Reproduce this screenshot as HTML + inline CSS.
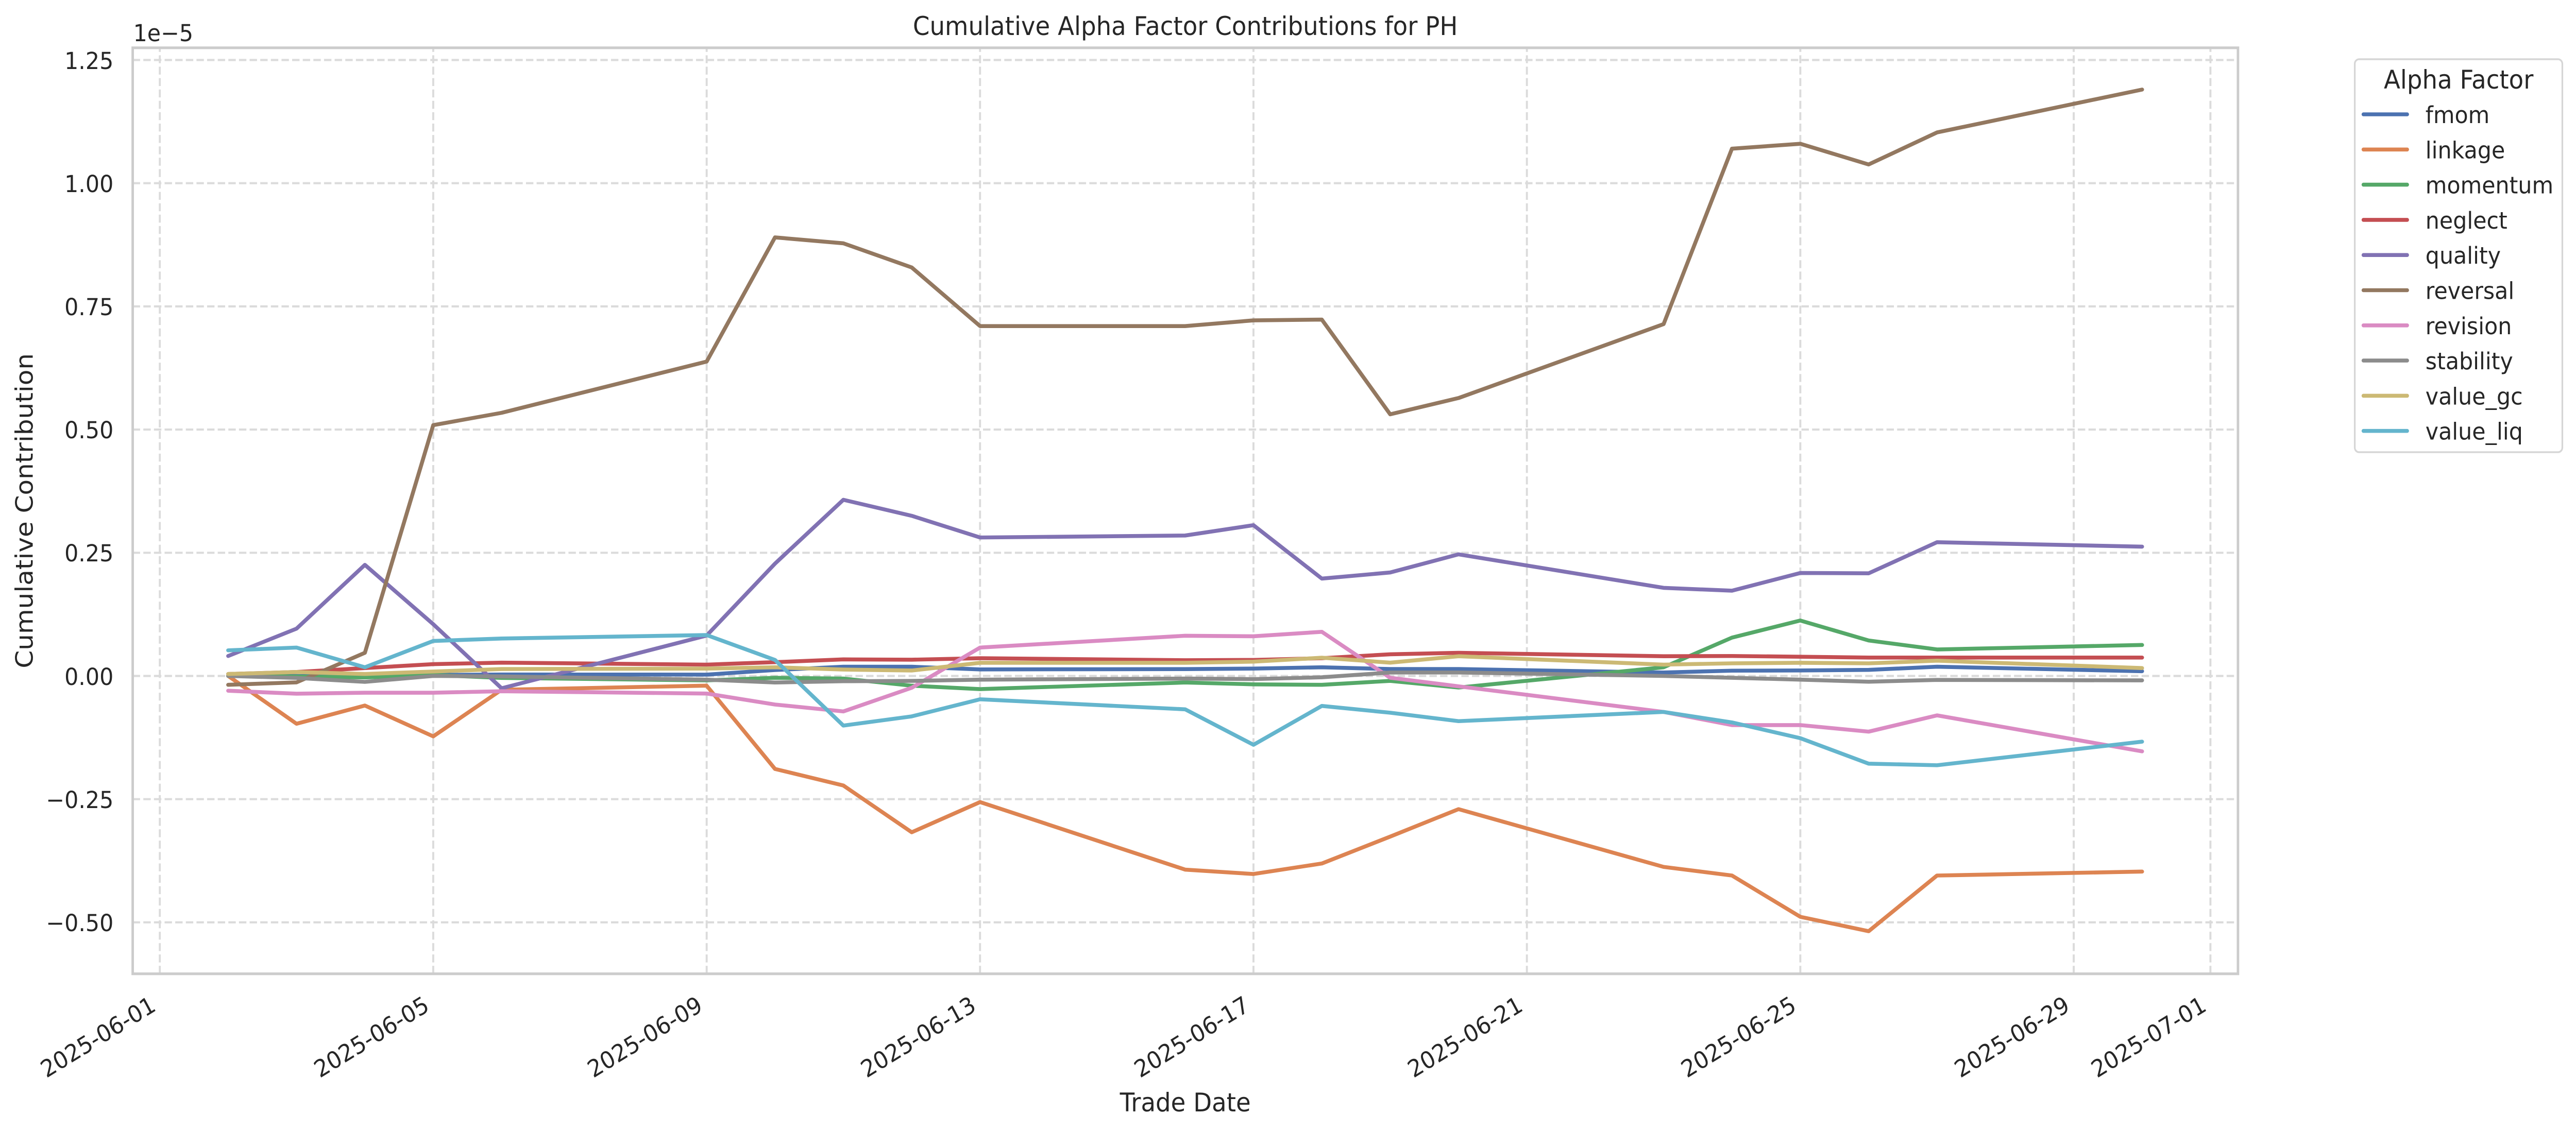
<!DOCTYPE html>
<html>
<head>
<meta charset="utf-8">
<style>
html,body{margin:0;padding:0;background:#ffffff;width:100%;height:100%;overflow:hidden;}
svg{display:block;width:100vw;height:100vh;}
text{font-family:"DejaVu Sans","Liberation Sans",sans-serif;fill:#262626;}
.ln{fill:none;stroke-width:7.6;stroke-linecap:round;stroke-linejoin:round;vector-effect:non-scaling-stroke;}
.grid{stroke:#dbdbdb;stroke-width:4.17;stroke-dasharray:15.4 6.7;fill:none;}
</style>
</head>
<body>
<svg viewBox="0 0 5356 2198" preserveAspectRatio="none" xmlns="http://www.w3.org/2000/svg">
<rect x="0" y="0" width="5356" height="2198" fill="#ffffff"/>

<g class="grid">
<path d="M275.9,1790.9H4653.2"/>
<path d="M275.9,1551.7H4653.2"/>
<path d="M275.9,1312.5H4653.2"/>
<path d="M275.9,1073.3H4653.2"/>
<path d="M275.9,834.1H4653.2"/>
<path d="M275.9,594.9H4653.2"/>
<path d="M275.9,355.7H4653.2"/>
<path d="M275.9,116.5H4653.2"/>
<path d="M332.3,1890.8V92.8"/>
<path d="M900.8,1890.8V92.8"/>
<path d="M1469.3,1890.8V92.8"/>
<path d="M2037.7,1890.8V92.8"/>
<path d="M2606.2,1890.8V92.8"/>
<path d="M3174.7,1890.8V92.8"/>
<path d="M3743.2,1890.8V92.8"/>
<path d="M4311.7,1890.8V92.8"/>
<path d="M4595.9,1890.8V92.8"/>
</g>

<g transform="matrix(142.12 0 0 -956.8 332.3 1312.5)">
<path class="ln" stroke="#4c72b0" d="M1,0 L2,0 L3,-0.002 L4,0.002 L5,0.003 L8,0.0027 L9,0.012 L10,0.0187 L11,0.0187 L12,0.0133 L15,0.0139 L16,0.015 L17,0.0176 L18,0.014 L19,0.014 L22,0.007 L23,0.0107 L24,0.0112 L25,0.0123 L26,0.0187 L29,0.0096"/>
<path class="ln" stroke="#dd8452" d="M1,0 L2,-0.097 L3,-0.06 L4,-0.1226 L5,-0.028 L8,-0.0197 L9,-0.1887 L10,-0.2223 L11,-0.3172 L12,-0.2559 L15,-0.393 L16,-0.4019 L17,-0.3806 L18,-0.326 L19,-0.2703 L22,-0.3875 L23,-0.405 L24,-0.4888 L25,-0.518 L26,-0.405 L29,-0.397"/>
<path class="ln" stroke="#55a868" d="M1,0 L2,-0.001 L3,-0.003 L4,0.002 L5,-0.004 L8,-0.009 L9,-0.0037 L10,-0.0053 L11,-0.0197 L12,-0.0267 L15,-0.0133 L16,-0.017 L17,-0.018 L18,-0.010 L19,-0.0235 L22,0.0176 L23,0.0778 L24,0.1125 L25,0.072 L26,0.0538 L29,0.0629"/>
<path class="ln" stroke="#c44e52" d="M1,0.004 L2,0.008 L3,0.016 L4,0.024 L5,0.027 L8,0.023 L9,0.028 L10,0.0336 L11,0.033 L12,0.036 L15,0.032 L16,0.0325 L17,0.036 L18,0.044 L19,0.047 L22,0.040 L23,0.0405 L24,0.039 L25,0.0373 L26,0.0373 L29,0.0373"/>
<path class="ln" stroke="#8172b3" d="M1,0.0405 L2,0.096 L3,0.2255 L4,0.105 L5,-0.025 L8,0.082 L9,0.228 L10,0.3575 L11,0.325 L12,0.281 L15,0.285 L16,0.306 L17,0.1976 L18,0.21 L19,0.2468 L22,0.1788 L23,0.173 L24,0.209 L25,0.2083 L26,0.2714 L29,0.2624"/>
<path class="ln" stroke="#937860" d="M1,-0.018 L2,-0.013 L3,0.047 L4,0.509 L5,0.534 L8,0.638 L9,0.890 L10,0.878 L11,0.829 L12,0.710 L15,0.710 L16,0.7216 L17,0.7232 L18,0.531 L19,0.564 L22,0.714 L23,1.070 L24,1.080 L25,1.038 L26,1.103 L29,1.190"/>
<path class="ln" stroke="#da8bc3" d="M1,-0.030 L2,-0.036 L3,-0.034 L4,-0.034 L5,-0.031 L8,-0.0357 L9,-0.058 L10,-0.072 L11,-0.024 L12,0.0576 L15,0.0816 L16,0.0805 L17,0.0896 L18,-0.0037 L19,-0.021 L22,-0.073 L23,-0.0997 L24,-0.0997 L25,-0.113 L26,-0.08 L29,-0.153"/>
<path class="ln" stroke="#8c8c8c" d="M1,0 L2,-0.004 L3,-0.012 L4,0 L5,-0.001 L8,-0.0075 L9,-0.0133 L10,-0.0107 L11,-0.010 L12,-0.0075 L15,-0.0053 L16,-0.0064 L17,-0.0027 L18,0.007 L19,0.007 L22,0 L23,-0.0037 L24,-0.0075 L25,-0.0117 L26,-0.008 L29,-0.009"/>
<path class="ln" stroke="#ccb974" d="M1,0.004 L2,0.008 L3,0.004 L4,0.009 L5,0.014 L8,0.015 L9,0.0176 L10,0.013 L11,0.011 L12,0.0267 L15,0.0267 L16,0.029 L17,0.037 L18,0.027 L19,0.040 L22,0.023 L23,0.0256 L24,0.0267 L25,0.0256 L26,0.031 L29,0.016"/>
<path class="ln" stroke="#64b5cd" d="M1,0.052 L2,0.0576 L3,0.0176 L4,0.071 L5,0.076 L8,0.083 L9,0.0325 L10,-0.1007 L11,-0.082 L12,-0.0474 L15,-0.0677 L16,-0.1397 L17,-0.0608 L18,-0.0746 L19,-0.0917 L22,-0.073 L23,-0.0943 L24,-0.1263 L25,-0.178 L26,-0.1812 L29,-0.1333"/>
</g>

<rect x="275.9" y="92.8" width="4377.3" height="1798" fill="none" stroke="#cccccc" stroke-width="5.2"/>

<g font-size="45.8" text-anchor="end">
<text x="236" y="1808">−0.50</text>
<text x="236" y="1569">−0.25</text>
<text x="236" y="1330">0.00</text>
<text x="236" y="1090">0.25</text>
<text x="236" y="851">0.50</text>
<text x="236" y="612">0.75</text>
<text x="236" y="373">1.00</text>
<text x="236" y="134">1.25</text>
</g>
<text x="277" y="80" font-size="45.8">1e−5</text>

<g font-size="45.8" text-anchor="end">
<text transform="translate(326.9,1960.7) rotate(-30)">2025-06-01</text>
<text transform="translate(895.4,1960.7) rotate(-30)">2025-06-05</text>
<text transform="translate(1463.9,1960.7) rotate(-30)">2025-06-09</text>
<text transform="translate(2032.3,1960.7) rotate(-30)">2025-06-13</text>
<text transform="translate(2600.8,1960.7) rotate(-30)">2025-06-17</text>
<text transform="translate(3169.3,1960.7) rotate(-30)">2025-06-21</text>
<text transform="translate(3737.8,1960.7) rotate(-30)">2025-06-25</text>
<text transform="translate(4306.3,1960.7) rotate(-30)">2025-06-29</text>
<text transform="translate(4590.5,1960.7) rotate(-30)">2025-07-01</text>
</g>

<text x="2464.5" y="68" font-size="50" text-anchor="middle">Cumulative Alpha Factor Contributions for PH</text>
<text x="2464.5" y="2158" font-size="50" text-anchor="middle">Trade Date</text>
<text transform="translate(68,991.8) rotate(-90)" font-size="50" text-anchor="middle">Cumulative Contribution</text>

<rect x="4896" y="115" width="431.6" height="763" rx="9" ry="9" fill="#ffffff" fill-opacity="0.8" stroke="#d6d6d6" stroke-width="3.5"/>
<text x="5112" y="172" font-size="50" text-anchor="middle">Alpha Factor</text>
<g stroke-width="7.6" stroke-linecap="round">
<line x1="4914" y1="222" x2="5005" y2="222" stroke="#4c72b0"/>
<line x1="4914" y1="290.3" x2="5005" y2="290.3" stroke="#dd8452"/>
<line x1="4914" y1="358.6" x2="5005" y2="358.6" stroke="#55a868"/>
<line x1="4914" y1="426.9" x2="5005" y2="426.9" stroke="#c44e52"/>
<line x1="4914" y1="495.2" x2="5005" y2="495.2" stroke="#8172b3"/>
<line x1="4914" y1="563.5" x2="5005" y2="563.5" stroke="#937860"/>
<line x1="4914" y1="631.8" x2="5005" y2="631.8" stroke="#da8bc3"/>
<line x1="4914" y1="700.1" x2="5005" y2="700.1" stroke="#8c8c8c"/>
<line x1="4914" y1="768.4" x2="5005" y2="768.4" stroke="#ccb974"/>
<line x1="4914" y1="836.7" x2="5005" y2="836.7" stroke="#64b5cd"/>
</g>
<g font-size="45.8">
<text x="5043" y="239">fmom</text>
<text x="5043" y="307.3">linkage</text>
<text x="5043" y="375.6">momentum</text>
<text x="5043" y="443.9">neglect</text>
<text x="5043" y="512.2">quality</text>
<text x="5043" y="580.5">reversal</text>
<text x="5043" y="648.8">revision</text>
<text x="5043" y="717.1">stability</text>
<text x="5043" y="785.4">value_gc</text>
<text x="5043" y="853.7">value_liq</text>
</g>
</svg>
</body>
</html>
